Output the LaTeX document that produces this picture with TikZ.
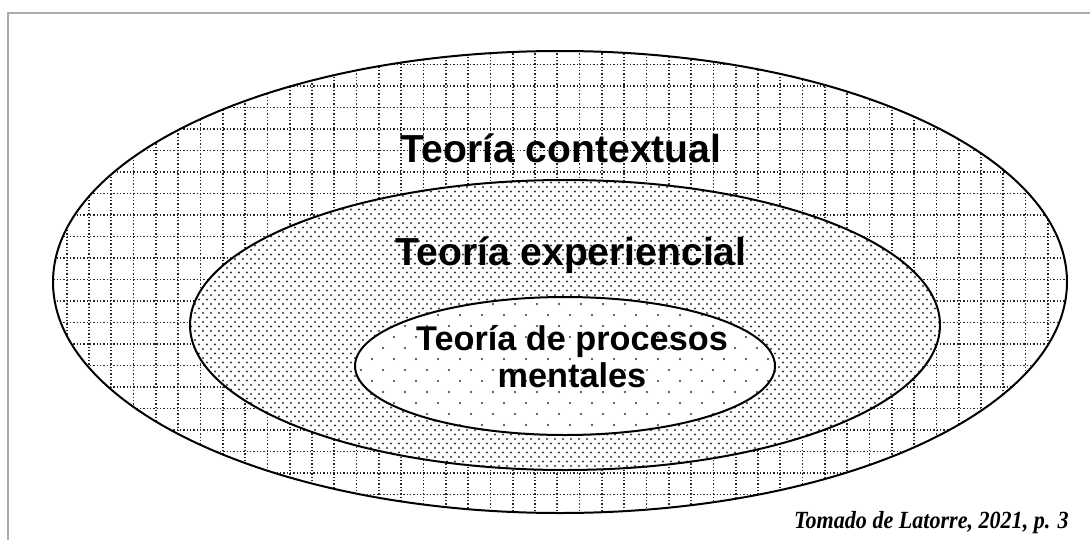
\documentclass[tikz,border=0pt]{standalone}
\usepackage{fontspec}
\setmainfont{Liberation Serif}
\newfontfamily\arialf{Liberation Sans}
\begin{document}
\begin{tikzpicture}[x=0.75pt,y=-0.75pt,
  frameline/.style={draw=black!33,line width=1.5pt},
  ring/.style={draw=black,line width=1.5pt},
  gridline/.style={black!85,line width=1.3pt,dash pattern=on 1.1pt off 1.4pt},
  densedots/.style={black!80,line width=1.7pt,line cap=round,dash pattern=on 0pt off 6pt},
  sparsedots/.style={black!80,line width=1.6pt,line cap=round,dash pattern=on 0pt off 16.5pt},
  lbl/.style={font=\arialf\bfseries\fontsize{29.3pt}{30pt}\selectfont,anchor=base,inner sep=0pt},
  lblsmall/.style={font=\arialf\bfseries\fontsize{25.7pt}{27.75pt}\selectfont,anchor=base,inner sep=0pt,align=center},
  caption/.style={font=\rmfamily\bfseries\itshape\fontsize{18.5pt}{20pt}\selectfont,anchor=base east,inner sep=0pt}]
\useasboundingbox (0,0) rectangle (1090,540);
\fill[white] (0,0) rectangle (1090,540);
% frame
\coordinate (ftr) at (1090,13);
\coordinate (ftl) at (8,13);
\coordinate (fbl) at (8,540);
\draw[frameline] (ftr) -- (ftl) -- (fbl);
% outer ellipse with grid
\begin{scope}
  \clip (560,282) ellipse [x radius=507, y radius=231];
  \foreach \i in {0,...,46} {
    \draw[gridline] (66.7+22.3*\i-44.6,40) -- (66.7+22.3*\i-44.6,520);
  }
  \foreach \j in {-9,...,14} {
    \draw[gridline] (40,215+21.5*\j) -- (1080,215+21.5*\j);
  }
\end{scope}
% middle ellipse with dense dots
\fill[white] (565,325) ellipse [x radius=375, y radius=145];
\begin{scope}
  \clip (565,325) ellipse [x radius=375, y radius=145];
  \foreach \j in {0,...,33} {
    \draw[densedots] (187,178+9*\j) -- (945,178+9*\j);
    \draw[densedots] (191,182.5+9*\j) -- (945,182.5+9*\j);
  }
\end{scope}
% inner ellipse with sparse dots
\fill[white] (565,366) ellipse [x radius=210, y radius=69];
\begin{scope}
  \clip (565,366) ellipse [x radius=210, y radius=69];
  \foreach \j in {0,...,7} {
    \draw[sparsedots] (350,293+22*\j) -- (780,293+22*\j);
    \draw[sparsedots] (361,304+22*\j) -- (780,304+22*\j);
  }
\end{scope}
% outlines
\draw[ring] (560,282) ellipse [x radius=507, y radius=231];
\draw[ring] (565,325) ellipse [x radius=375, y radius=145];
\draw[ring] (565,366) ellipse [x radius=210, y radius=69];
% labels
\node[lbl] (ctx) at (561,162) {Teoría contextual};
\node[lbl] (exp) at (571,265) {Teoría experiencial};
\node[lblsmall] (proc) at (572,387) {Teoría de procesos\\mentales};
\node[caption] (src) at (1069,528) {\scalebox{0.895}[1]{Tomado de Latorre, 2021, p. 3}};
\end{tikzpicture}
\end{document}
